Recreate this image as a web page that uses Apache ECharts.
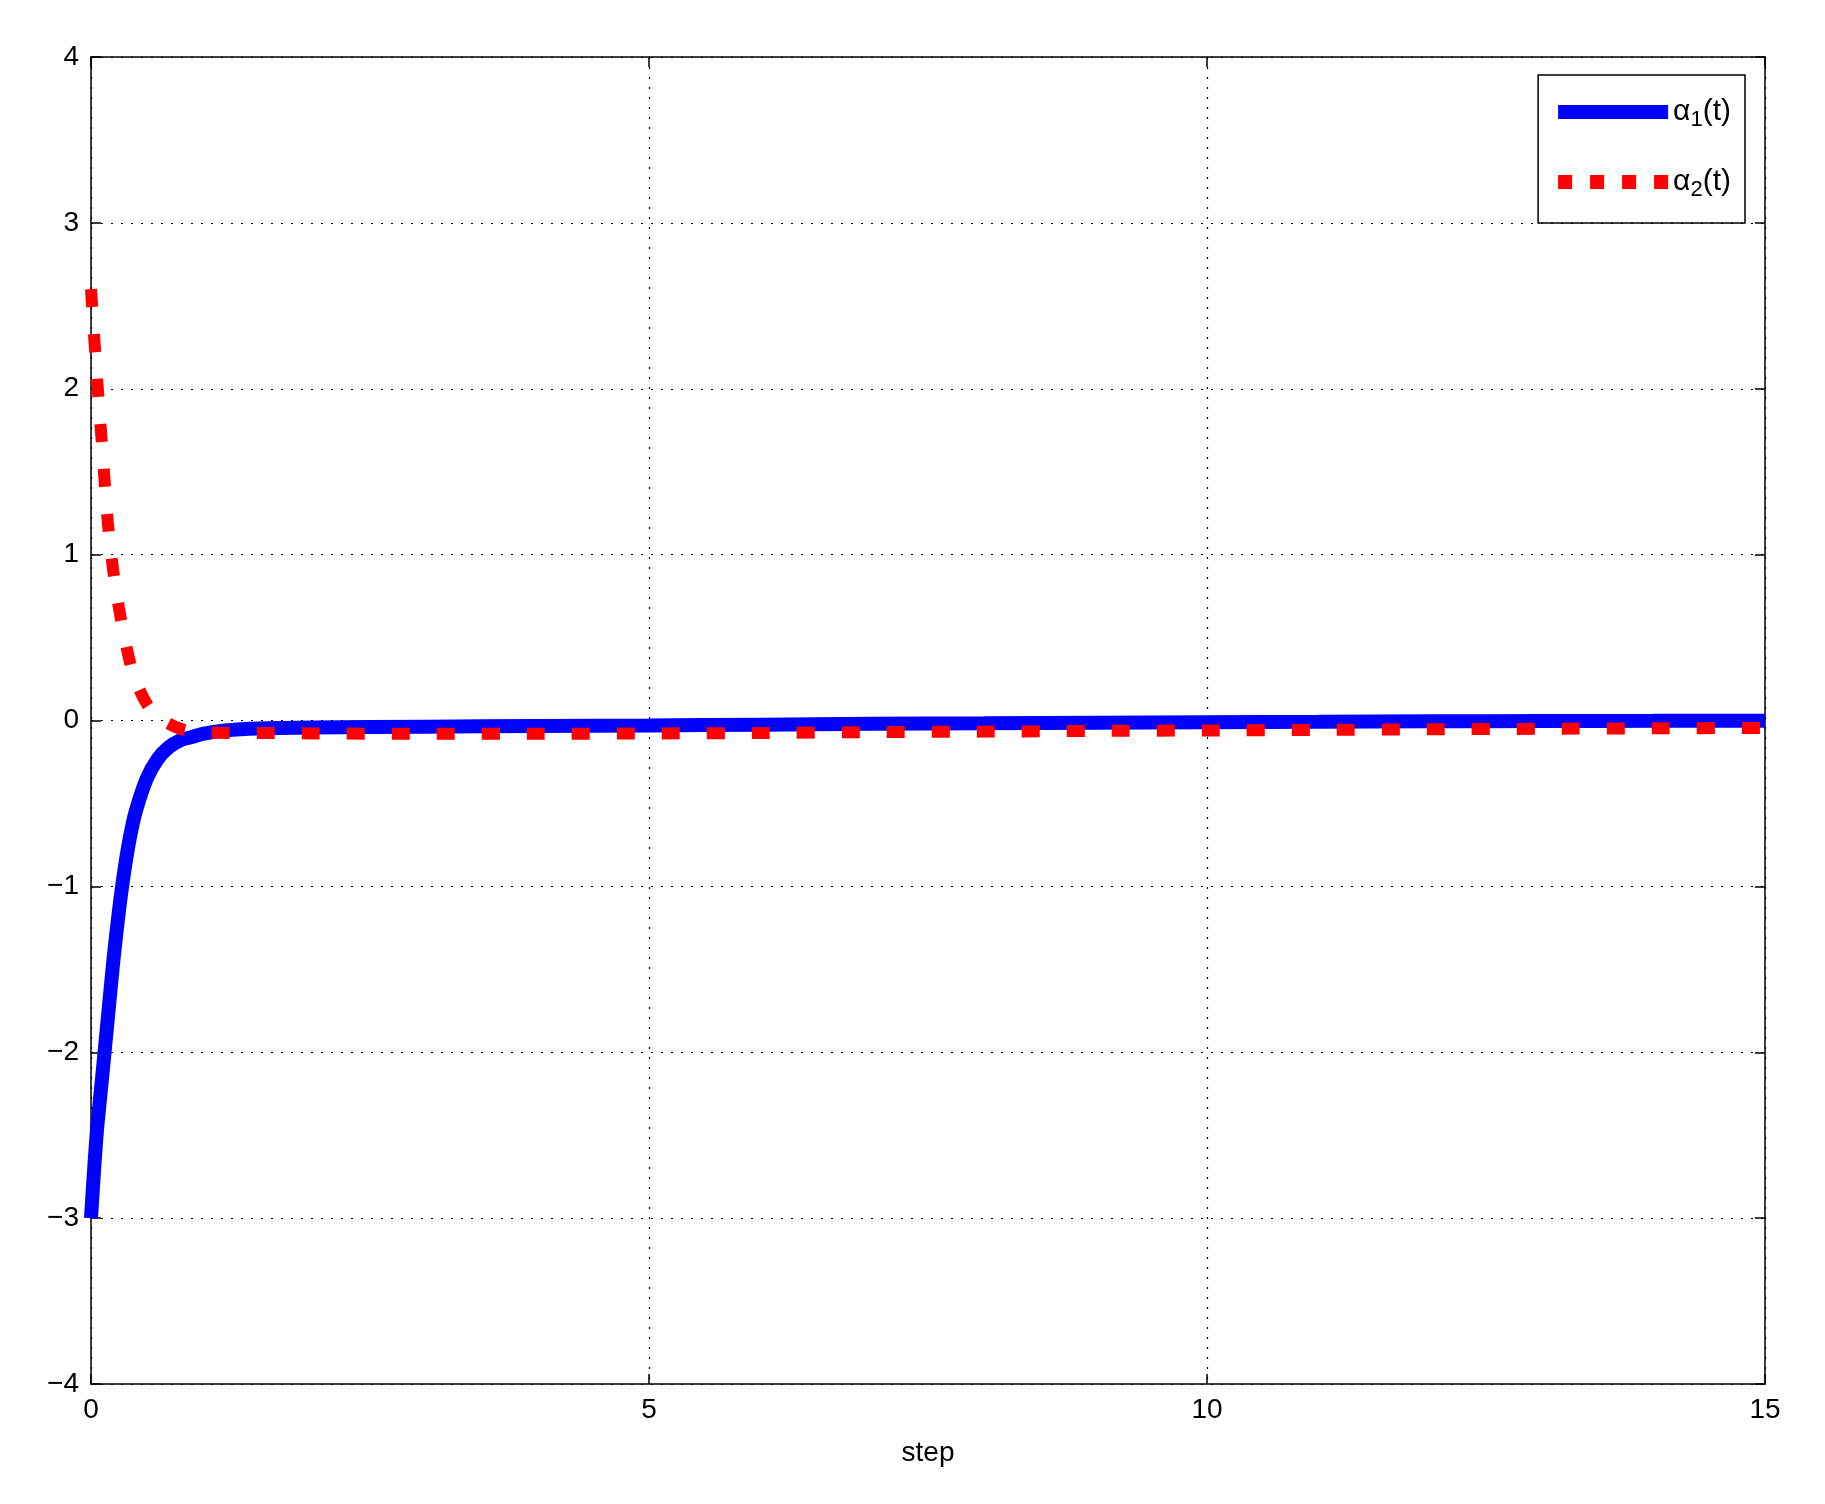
<!DOCTYPE html>
<html><head><meta charset="utf-8">
<script src="https://cdn.jsdelivr.net/npm/echarts@6/dist/echarts.min.js"></script>
<style>html,body{margin:0;background:#fff}#c{width:1825px;height:1504px}</style>
</head><body><div id="c"></div>
<script>
const t = [0,0.05,0.1,0.15,0.2,0.25,0.3,0.35,0.4,0.5,0.6,0.7,0.8,0.9,1.0,1.2,1.5,2,3,4,5,6,7,8,9,10,11,12,13,14,15];
const alpha1 = [-3,-2.5,-2.15,-1.8,-1.45,-1.15,-0.9,-0.7,-0.55,-0.35,-0.23,-0.16,-0.12,-0.1,-0.08,-0.06,-0.048,-0.042,-0.037,-0.033,-0.03,-0.025,-0.02,-0.017,-0.013,-0.01,-0.008,-0.005,-0.003,-0.002,-0.001];
const alpha2 = [2.6,2.1,1.65,1.2,0.9,0.68,0.5,0.35,0.24,0.1,0.02,-0.02,-0.05,-0.065,-0.07,-0.075,-0.075,-0.078,-0.08,-0.08,-0.078,-0.075,-0.07,-0.067,-0.063,-0.06,-0.057,-0.053,-0.05,-0.047,-0.045];
const font='Liberation Sans';
const ax = (min,max,interval,pos,labels)=>({type:'value',min,max,interval,position:pos,
  axisLine:{show:true,onZero:false,lineStyle:{color:'#000',width:1.5}},
  axisTick:{show:true,inside:true,length:10,lineStyle:{color:'#000',width:1.5}},
  axisLabel:{show:labels,color:'#000',fontSize:28,fontFamily:font,margin:12,formatter:v=>String(v).replace('-','\u2212')},
  splitLine:{show:labels,lineStyle:{color:'#000',type:[2,8],width:1.2}}});
const chart=echarts.init(document.getElementById('c'));
chart.setOption({
  animation:false,
  grid:{left:91,right:60,top:57,bottom:120},
  xAxis:[Object.assign(ax(0,15,5,'bottom',true),{name:'step',nameLocation:'middle',nameGap:55,nameTextStyle:{color:'#000',fontSize:28,fontFamily:font}}),ax(0,15,5,'top',false)],
  yAxis:[ax(-4,4,1,'left',true),ax(-4,4,1,'right',false)],
  legend:{right:80,top:75,orient:'vertical',itemWidth:110,itemHeight:14,itemGap:36,
    backgroundColor:'#fff',borderColor:'#000',borderWidth:1.5,borderRadius:0,padding:[22,14,22,20],
    data:[{name:'a1',icon:'rect'},{name:'a2',icon:'path://M0,0h14v14h-14zM32,0h14v14h-14zM64,0h14v14h-14zM96,0h14v14h-14z'}],
    formatter:n=>n==='a1'?'{a|α}{s|1}{a|(t)}':'{a|α}{s|2}{a|(t)}',
    textStyle:{rich:{a:{fontSize:30,fontFamily:font,color:'#000'},s:{fontSize:22,fontFamily:font,color:'#000',padding:[16,0,0,0]}}}},
  series:[
    {name:'a1',type:'line',data:t.map((x,i)=>[x,alpha1[i]]),showSymbol:false,smooth:0.3,lineStyle:{color:'#0000ff',width:14},itemStyle:{color:'#0000ff'}},
    {name:'a2',type:'line',data:t.map((x,i)=>[x,alpha2[i]]),showSymbol:false,smooth:0.3,lineStyle:{color:'#ff0000',width:12,type:[18,27]},itemStyle:{color:'#ff0000'}}
  ]
});
</script></body></html>
